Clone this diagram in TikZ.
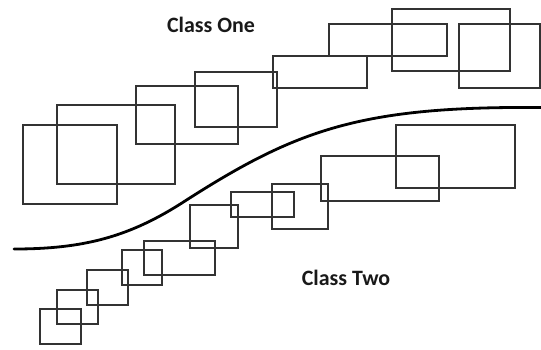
\documentclass[tikz,border=0pt]{standalone}
\usepackage{fontspec}
\setmainfont{Carlito}
\begin{document}
\begin{tikzpicture}[x=1bp,y=-1bp,
  box/.style={draw=black!80,line width=1.3bp},
  boundary/.style={draw=black,line width=2.8bp,line cap=round},
  label/.style={font=\fontsize{22}{26}\selectfont\bfseries,text=black!90}]
\useasboundingbox (0,0) rectangle (541,349);
% Class One boxes
\foreach \a/\b/\c/\d in {23/125/117/204, 57/105/175/184, 136/86/238/144, 195/72/277/127,
  273/56/367/88, 329/24/447/56, 392/9/510/71, 459/24/540/88}
  \draw[box] (\a,\b) rectangle (\c,\d);
% Class Two boxes
\foreach \a/\b/\c/\d in {396/125/515/188, 321/156/439/201, 272/184/328/229, 231/192/294/217,
  190/205/238/248, 144/241/215/275, 122/250/162/285, 87/270/128/305, 57/290/98/324, 40/309/81/344}
  \draw[box] (\a,\b) rectangle (\c,\d);
% Decision boundary: two cubic pieces meeting at the inflection point
\coordinate (bstart) at (14,249);
\coordinate (bturn) at (185,201);
\coordinate (bend) at (541,107.5);
\draw[boundary] (bstart) .. controls (84,249) and (130,236.75) .. (bturn)
  .. controls (296.5,129.5) and (361,106) .. (bend);
\node[label] (one) at (211,25) {Class One};
\node[label] (two) at (346,278) {Class Two};
\end{tikzpicture}
\end{document}
